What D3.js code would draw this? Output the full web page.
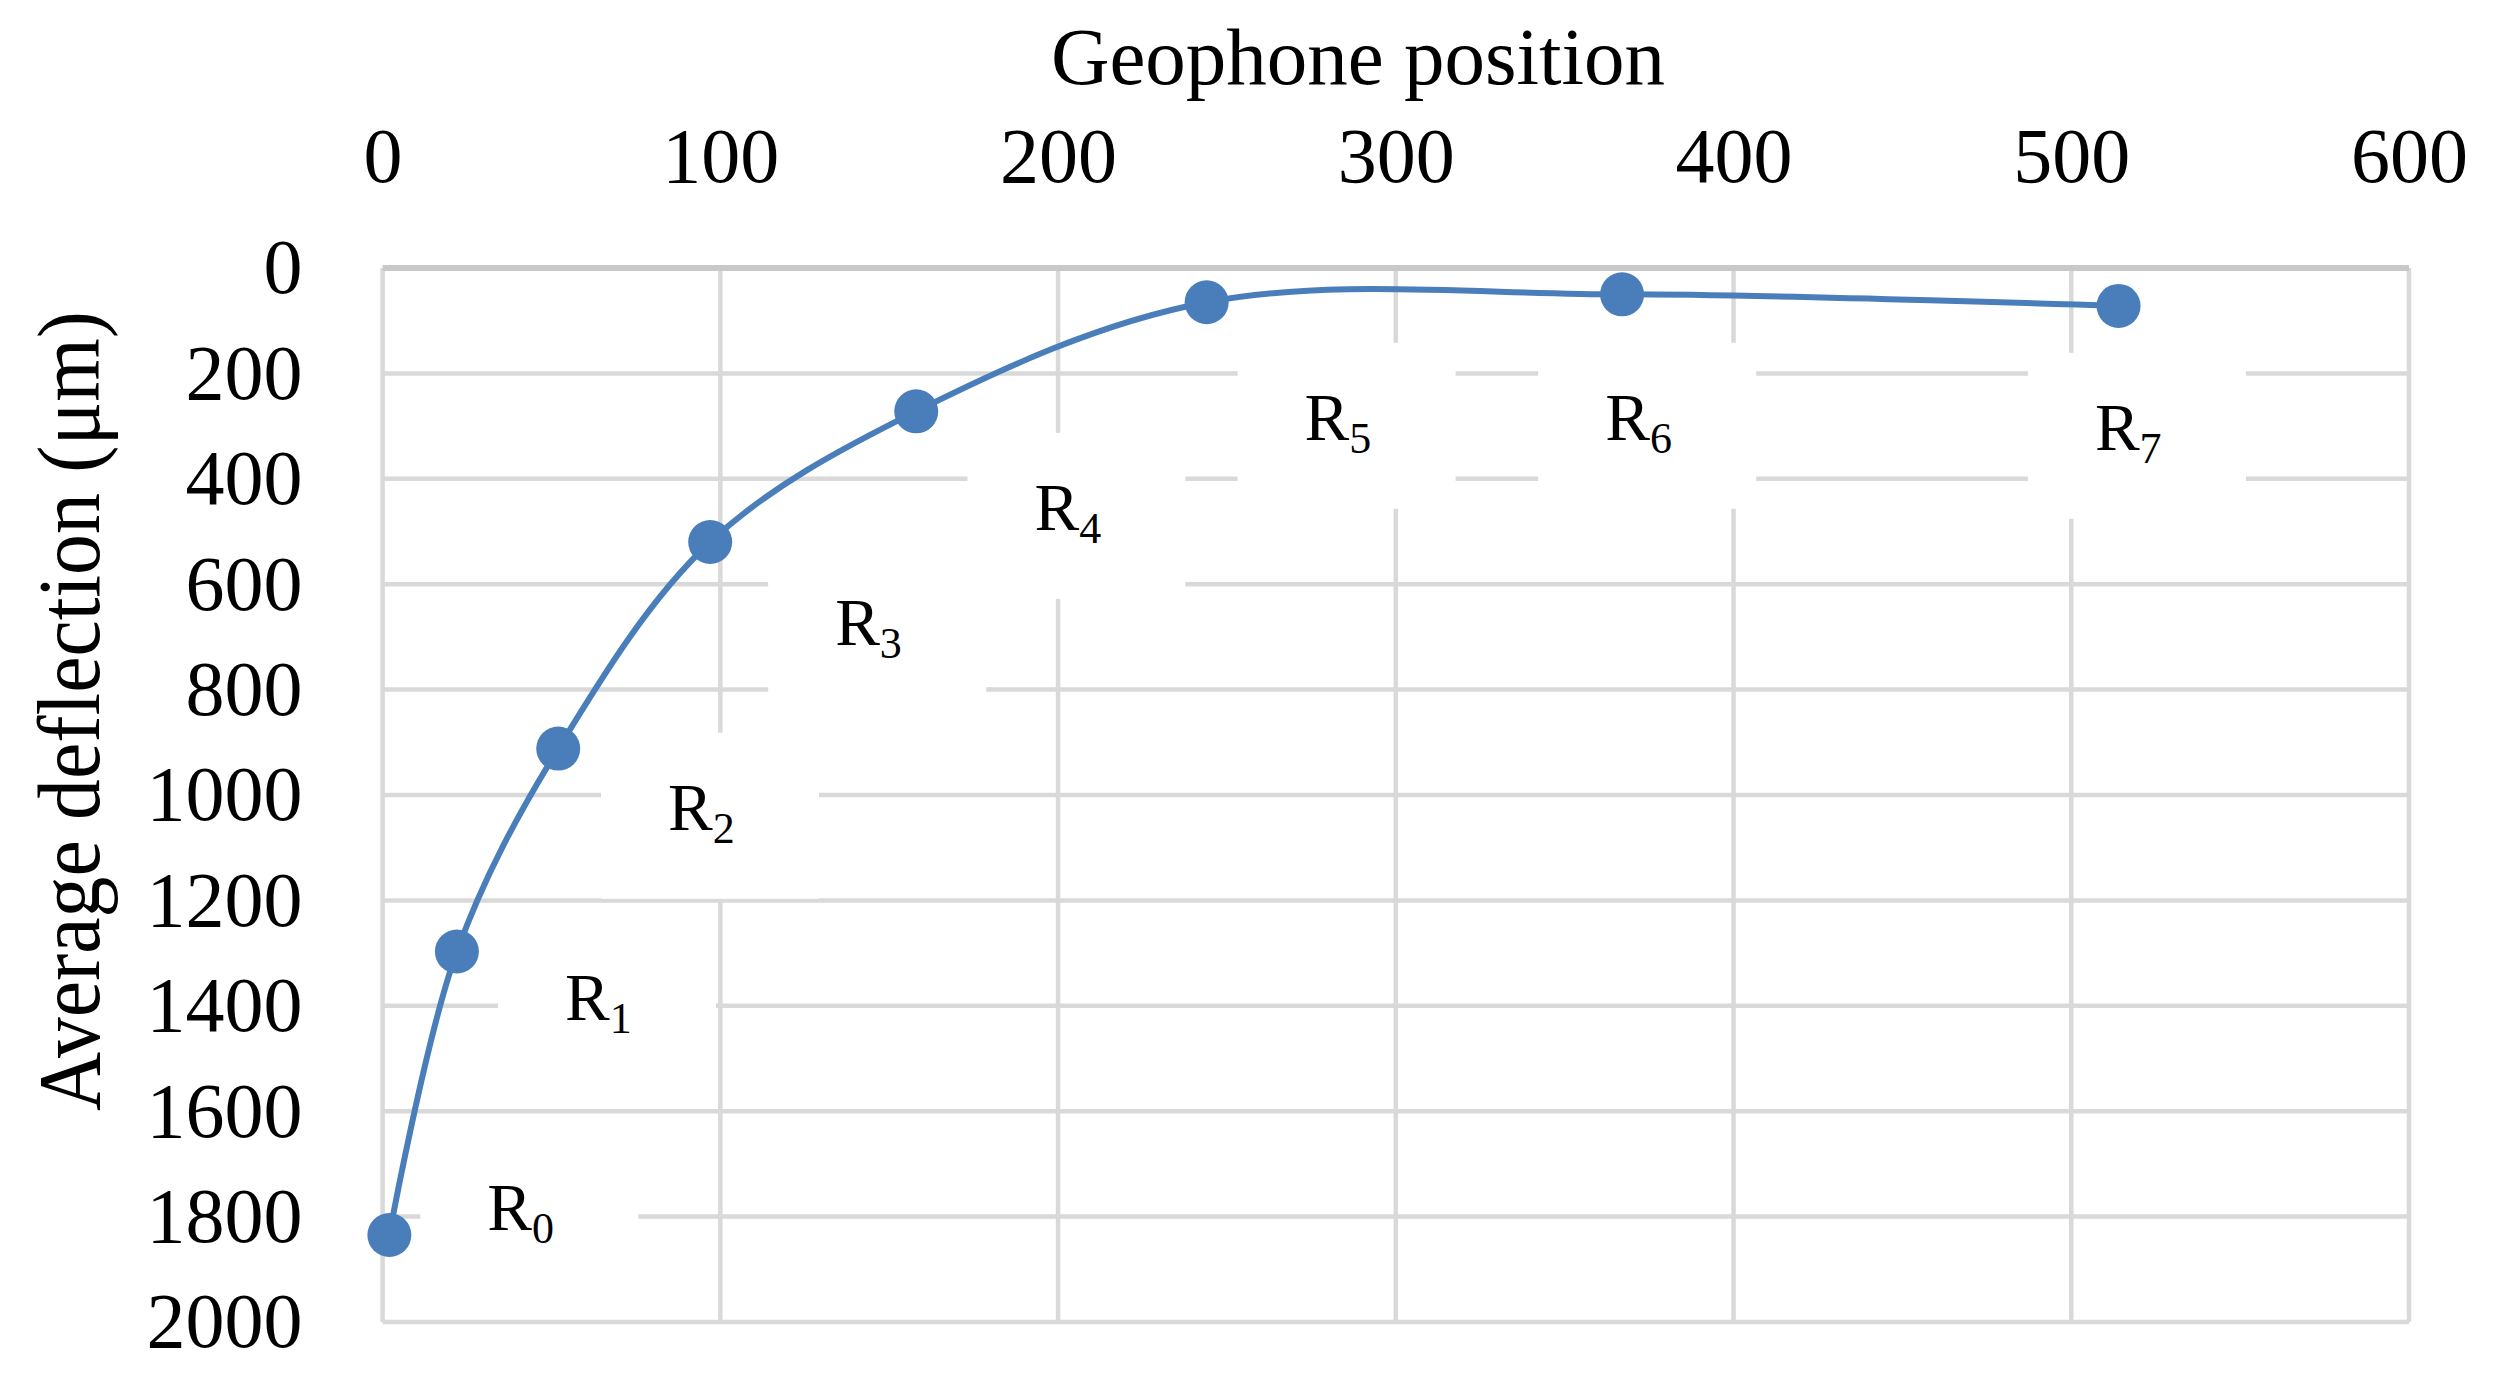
<!DOCTYPE html>
<html>
<head>
<meta charset="utf-8">
<script src="https://cdn.jsdelivr.net/npm/d3@7"></script>
<style>
  body { margin: 0; background: #fff; }
</style>
</head>
<body>
<svg class="chart"></svg>
<script>
const graphWidth = 2500;
const graphHeight = 1381;

// data
const positions = [2, 22, 52, 97, 158, 244, 367, 514];
const deflections = [1835, 1297, 912, 520, 272, 65, 50, 72];
const labelNames = ['0', '1', '2', '3', '4', '5', '6', '7'];
// where each R label sits, in data units (left of "R", baseline)
const labelPosX = [31, 54, 84.5, 134, 193, 273, 362, 507];
const labelPosY = [1825, 1427, 1066, 715, 497, 326, 326, 345];

const xTicks = [0, 100, 200, 300, 400, 500, 600];
const yTicks = [0, 200, 400, 600, 800, 1000, 1200, 1400, 1600, 1800, 2000];

const serif = 'Liberation Serif';
const blue = '#4a7ebb';
const gridColor = '#d9d9d9';

const svg = d3
  .select('.chart')
  .attr('width', graphWidth)
  .attr('height', graphHeight)
  .attr('font-family', serif);

svg.append('rect')
  .attr('width', graphWidth)
  .attr('height', graphHeight)
  .attr('fill', '#fff');

const x = d3.scaleLinear().domain([0, 600]).range([382.6, 2409]);
const y = d3.scaleLinear().domain([0, 2000]).range([268, 1322]);

//Gridlines
const grid = svg.append('g').attr('class', 'grid');
grid.selectAll('line.v')
  .data(xTicks)
  .enter()
  .append('line')
  .attr('class', 'v')
  .attr('x1', d => x(d))
  .attr('x2', d => x(d))
  .attr('y1', y(0))
  .attr('y2', y(2000))
  .attr('stroke', gridColor)
  .attr('stroke-width', 4.5);

grid.selectAll('line.h')
  .data(yTicks)
  .enter()
  .append('line')
  .attr('class', 'h')
  .attr('x1', x(0))
  .attr('x2', x(600))
  .attr('y1', d => y(d))
  .attr('y2', d => y(d))
  .attr('stroke', d => (d === 0 ? '#c8c8c8' : gridColor))
  .attr('stroke-width', d => (d === 0 ? 6 : 4.5));

//Axes (labels only)
const xAxis = svg.append('g')
  .attr('transform', 'translate(0,' + y(0) + ')')
  .call(d3.axisTop(x).tickValues(xTicks).tickFormat(d3.format('d')).tickSize(0).tickPadding(86));
xAxis.attr('font-family', serif).attr('font-size', 78);
xAxis.select('.domain').remove();
xAxis.selectAll('text').attr('fill', '#000');

const yAxis = svg.append('g')
  .attr('transform', 'translate(' + x(0) + ',0)')
  .call(d3.axisLeft(y).tickValues(yTicks).tickFormat(d3.format('d')).tickSize(0).tickPadding(80));
yAxis.attr('font-family', serif).attr('font-size', 78);
yAxis.select('.domain').remove();
yAxis.selectAll('text').attr('fill', '#000');

//Axis titles
svg.append('text')
  .attr('x', 1358)
  .attr('y', 84)
  .attr('text-anchor', 'middle')
  .attr('font-family', serif)
  .attr('font-size', 81)
  .text('Geophone position');

svg.append('text')
  .attr('transform', 'translate(99,711) rotate(-90)')
  .attr('text-anchor', 'middle')
  .attr('textLength', 800)
  .attr('lengthAdjust', 'spacingAndGlyphs')
  .attr('font-family', serif)
  .attr('font-size', 88)
  .text('Average deflection (μm)');

//Data labels with white boxes
const labels = svg.append('g').attr('class', 'labels')
  .selectAll('g')
  .data(labelNames)
  .enter()
  .append('g')
  .attr('transform', (d, i) => 'translate(' + x(labelPosX[i]) + ',' + y(labelPosY[i]) + ')');

labels.append('rect')
  .attr('x', -67)
  .attr('y', -97)
  .attr('width', 218)
  .attr('height', 166)
  .attr('fill', '#fff');

const labelText = labels.append('text')
  .attr('font-family', serif)
  .attr('font-size', 67);
labelText.append('tspan').text('R');
labelText.append('tspan')
  .attr('dy', 13)
  .attr('font-size', 44)
  .text(d => d);

//Line and markers
const points = positions.map((p, i) => [p, deflections[i]]);
const line = d3.line()
  .x(d => x(d[0]))
  .y(d => y(d[1]))
  .curve(d3.curveCatmullRom.alpha(0.5));

svg.append('path')
  .datum(points)
  .attr('d', line)
  .attr('fill', 'none')
  .attr('stroke', blue)
  .attr('stroke-width', 6);

svg.selectAll('circle.marker')
  .data(points)
  .enter()
  .append('circle')
  .attr('class', 'marker')
  .attr('cx', d => x(d[0]))
  .attr('cy', d => y(d[1]))
  .attr('r', 22)
  .attr('fill', blue);
</script>
</body>
</html>
